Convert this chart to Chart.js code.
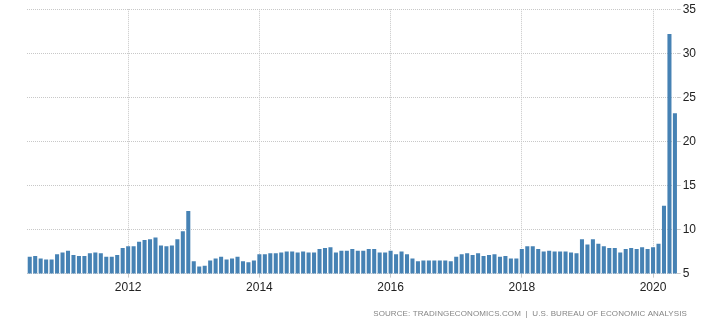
<!DOCTYPE html>
<html>
<head>
<meta charset="utf-8">
<script src="https://cdn.jsdelivr.net/npm/chart.js@4"></script>
<style>
  html, body { margin: 0; padding: 0; background: #fff; }
  #wrap { width: 702px; height: 321px; position: relative; }
</style>
</head>
<body>
<div id="wrap"><canvas id="savingRate"></canvas></div>
<script>
// monthly series, first bar = July 2010
var startYear = 2010;
var startMonth = 7;
var savingRate = [
    6.9, 7.0, 6.7, 6.6, 6.6, 7.2,
    7.4, 7.6, 7.1, 7.0, 7.0, 7.3, 7.4, 7.3, 6.9, 6.9, 7.1, 7.9,
    8.1, 8.1, 8.6, 8.8, 8.9, 9.1, 8.2, 8.1, 8.2, 8.9, 9.8, 12.1,
    6.4, 5.8, 5.9, 6.5, 6.7, 6.9, 6.6, 6.7, 6.9, 6.4, 6.3, 6.5,
    7.2, 7.2, 7.3, 7.3, 7.4, 7.5, 7.5, 7.4, 7.5, 7.4, 7.4, 7.8,
    7.9, 8.0, 7.4, 7.6, 7.6, 7.8, 7.6, 7.6, 7.8, 7.8, 7.4, 7.4,
    7.6, 7.2, 7.5, 7.2, 6.7, 6.4, 6.5, 6.5, 6.5, 6.5, 6.5, 6.4,
    6.9, 7.2, 7.3, 7.1, 7.3, 7.0, 7.1, 7.2, 6.9, 7.0, 6.7, 6.7,
    7.8, 8.1, 8.1, 7.8, 7.5, 7.6, 7.5, 7.5, 7.5, 7.4, 7.3, 8.9,
    8.3, 8.9, 8.4, 8.1, 7.9, 7.9, 7.4, 7.8, 7.9, 7.8, 8.0, 7.8,
    8.0, 8.4, 12.7, 32.2, 23.2
];
var labeledYears = [2012, 2014, 2016, 2018, 2020];
var yTicks = [5, 10, 15, 20, 25, 30, 35];
var sourceText = 'SOURCE: TRADINGECONOMICS.COM  |  U.S. BUREAU OF ECONOMIC ANALYSIS';

var months = [];
for (var i = 0; i < savingRate.length; i++) {
    var m = startMonth - 1 + i;
    months.push({ year: startYear + Math.floor(m / 12), month: (m % 12) + 1 });
}
var categories = months.map(function(d) {
    return d.year + '-' + (d.month < 10 ? '0' : '') + d.month;
});

function isLabeled(index) {
    var d = months[index];
    return d && d.month === 1 && labeledYears.indexOf(d.year) !== -1;
}

var sourcePlugin = {
    id: 'sourceNote',
    afterDraw: function(chart) {
        var ctx = chart.ctx;
        ctx.save();
        ctx.font = '8px Arial, "Liberation Sans", sans-serif';
        ctx.fillStyle = '#858585';
        ctx.textAlign = 'right';
        ctx.textBaseline = 'middle';
        if ('letterSpacing' in ctx) ctx.letterSpacing = '0.1px';
        ctx.fillText(sourceText, 687, 314);
        ctx.restore();
    }
};

var ctx = document.getElementById('savingRate').getContext('2d');
var chart = new Chart(ctx, {
    type: 'bar',
    data: {
        labels: categories,
        datasets: [{
            data: savingRate,
            backgroundColor: '#4682b4',
            borderWidth: 0,
            barPercentage: 0.74,
            categoryPercentage: 1.0
        }]
    },
    options: {
        responsive: true,
        maintainAspectRatio: false,
        animation: false,
        layout: { padding: { left: 27, right: 4, top: 9, bottom: 23 } },
        plugins: {
            legend: { display: false },
            tooltip: { enabled: false }
        },
        scales: {
            x: {
                offset: true,
                border: { display: false, dash: [1, 1] },
                grid: {
                    offset: false,
                    tickLength: 4,
                    lineWidth: 1,
                    color: function(c) {
                        return isLabeled(c.index) ? '#c8c8c8' : 'rgba(0,0,0,0)';
                    }
                },
                ticks: {
                    autoSkip: false,
                    maxRotation: 0,
                    minRotation: 0,
                    padding: 3,
                    color: '#222',
                    font: { family: 'Arial, "Liberation Sans", sans-serif', size: 12 },
                    callback: function(value, index) {
                        return isLabeled(index) ? String(months[index].year) : '';
                    }
                }
            },
            y: {
                position: 'right',
                min: 5,
                max: 35,
                border: { display: false, dash: [1, 1] },
                grid: {
                    color: '#c8c8c8',
                    tickLength: 3,
                    lineWidth: 1
                },
                afterBuildTicks: function(axis) {
                    axis.ticks = yTicks.map(function(v) { return { value: v }; });
                },
                ticks: {
                    padding: 2,
                    color: '#222',
                    font: { family: 'Arial, "Liberation Sans", sans-serif', size: 12 }
                }
            }
        }
    },
    plugins: [sourcePlugin]
});
</script>
</body>
</html>
